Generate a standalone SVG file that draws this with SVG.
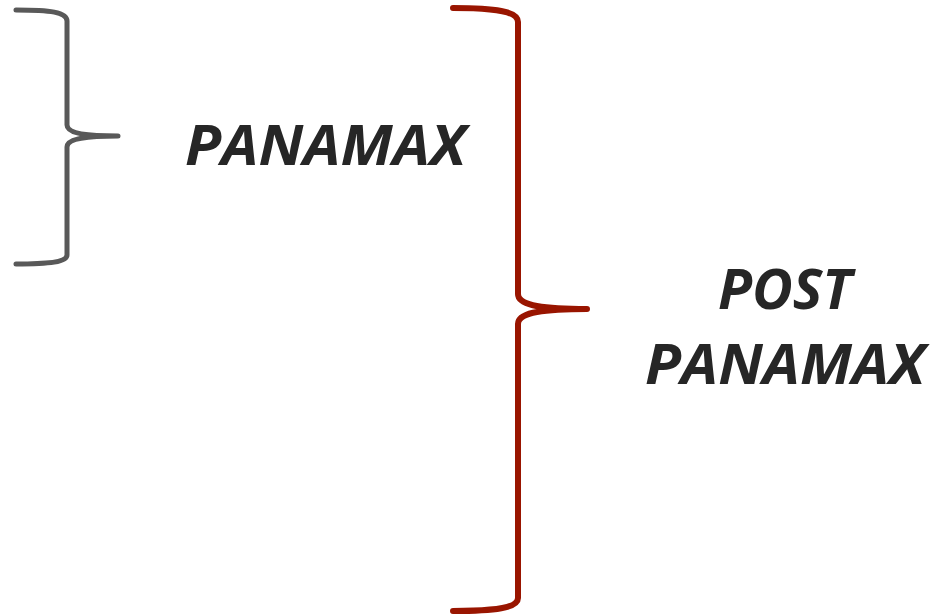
<svg xmlns="http://www.w3.org/2000/svg" width="942" height="615" viewBox="0 0 942 615">
  <style>
    .brace { fill: none; stroke-linecap: round; stroke-linejoin: round; }
    .label { font-family: "Open Sans", "Liberation Sans", sans-serif; font-weight: bold; font-style: italic; font-size: 56px; fill: #262626; }
  </style>
  <rect width="942" height="615" fill="#ffffff"/>
  <g id="connectors">
    <path id="brace-panamax" class="brace" stroke="#595959" stroke-width="5"
      d="M16,10 C50,10 67,12 67,21 L67,125 C67,132 80,136 118,136 C80,136 67,140 67,147 L67,255 C67,262 50,264 16,264"/>
    <path id="brace-post" class="brace" stroke="#991500" stroke-width="6"
      d="M453,8 C495,8 518,11 518,22 L518,294 C518,304 535,309 587,309 C535,309 518,314 518,324 L518,598 C518,608 495,611 453,611"/>
  </g>
  <g id="node-panamax">
    <text class="label" x="185" y="165" textLength="281" lengthAdjust="spacingAndGlyphs">PANAMAX</text>
  </g>
  <g id="node-post-panamax">
    <text class="label" x="718" y="309" textLength="134" lengthAdjust="spacingAndGlyphs">POST</text>
    <text class="label" x="645" y="384" textLength="280" lengthAdjust="spacingAndGlyphs">PANAMAX</text>
  </g>
</svg>
